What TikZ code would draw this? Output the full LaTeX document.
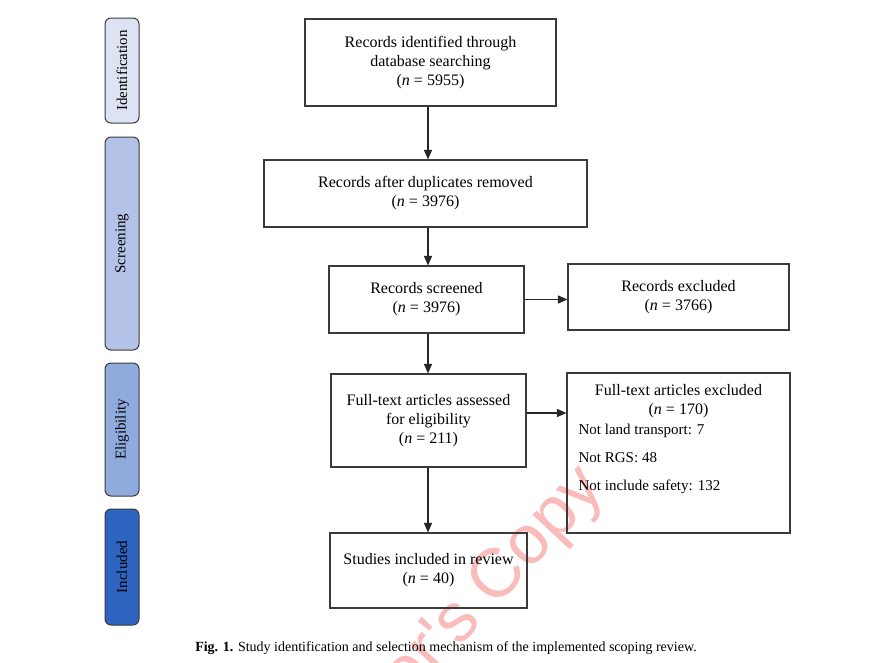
\documentclass[tikz,border=0pt]{standalone}
\usepackage{fontspec}
\setmainfont{Liberation Serif}
\newfontfamily\stampfont{Liberation Sans}
\usetikzlibrary{arrows.meta, positioning, calc}
\definecolor{identify}{HTML}{DDE3F3}
\definecolor{screen}  {HTML}{B4C2E7}
\definecolor{eligible}{HTML}{8FAADD}
\definecolor{include} {HTML}{2E63BF}
\definecolor{frame}   {HTML}{3A3A3A}
\definecolor{stamp}   {HTML}{F03C3C}

\begin{document}
\begin{tikzpicture}[x=1pt, y=-1pt,
  % One unit is one pixel of the reference, measured from its top left corner.
  box/.style={draw=frame, line width=1.1pt, align=center, inner sep=3pt,
              font=\fontsize{16}{19}\selectfont},
  stage/.style={draw=frame, line width=1pt, rounded corners=6pt, rotate=90,
                minimum height=34pt, inner sep=0pt, font=\fontsize{15}{18}\selectfont},
  flow/.style={-{Triangle[length=9.5pt, width=8pt]}, line width=1.3pt, color=black!85},
  listtext/.style={font=\fontsize{15}{18}\selectfont, inner sep=0pt},
  % The watermark lies under the text and is cut off at the page edge.
  stampmark/.style={font=\stampfont\fontsize{69}{69}\selectfont, text=stamp,
                    text opacity=0.35, rotate=47, inner sep=0pt}
]
\useasboundingbox (0,0) rectangle (880,662);

% --- Watermark ---
\begin{scope}
  \clip (0,0) rectangle (880,662);
  \node[stampmark, anchor=base east] (wm) at (606,490) {Author's Copy};
\end{scope}

% --- Stages (left column) ---
\node[stage, fill=identify, minimum width=105pt] (sident) at (122,70.5)  {Identification};
\node[stage, fill=screen,   minimum width=213pt] (sscr)   at (122,243.5) {Screening};
\node[stage, fill=eligible, minimum width=133pt] (selig)  at (122,429.5) {Eligibility};
\node[stage, fill=include,  minimum width=116pt] (sincl)  at (122,567)   {Included};

% --- Main flow ---
\node[box, minimum width=251pt, minimum height=87pt] (rec)  at (430.5,62.5)
  {Records identified through\\database searching\\(\textit{n} = 5955)};
\node[box, minimum width=323pt, minimum height=67pt] (dup)  at (425.5,193.5)
  {Records after duplicates removed\\(\textit{n} = 3976)};
\node[box, minimum width=195pt, minimum height=67pt] (scr)  at (426.5,299.5)
  {Records screened\\(\textit{n} = 3976)};
\node[box, minimum width=195pt, minimum height=93pt] (full) at (428.5,420.5)
  {Full-text articles assessed\\for eligibility\\(\textit{n} = 211)};
\node[box, minimum width=197pt, minimum height=75pt] (incl) at (428.5,570.5)
  {Studies included in review\\(\textit{n} = 40)};

% --- Exclusions (right column) ---
\node[box, minimum width=221pt, minimum height=66pt] (exc)  at (678.5,297)
  {Records excluded\\(\textit{n} = 3766)};
\node[box, minimum width=223pt, minimum height=160pt] (fexc) at (678.5,453) {};
\node[box, draw=none, inner sep=0pt, anchor=north] (fexchead)
  at ([yshift=-11pt]fexc.north) {Full-text articles excluded\\(\textit{n} = 170)};
\node[listtext, anchor=north west, align=left] (fexclist)
  at ([xshift=12pt, yshift=-51pt]fexc.north west)
  {Not land transport: 7\\[10pt]Not RGS: 48\\[10pt]Not include safety: 132};

% --- Arrows ---
\coordinate (spine) at (428,0);
\draw[flow] (rec.south -| spine) -- (dup.north -| spine);
\draw[flow] (dup.south -| spine) -- (scr.north -| spine);
\draw[flow] (scr.south -| spine) -- (full.north -| spine);
\draw[flow] (full.south -| spine) -- (incl.north -| spine);
\draw[flow] (scr.east) -- (scr.east -| exc.west);
\draw[flow] ([yshift=7.5pt]full.east) -- ([yshift=7.5pt]full.east -| fexc.west);

% --- Caption ---
\node[font=\fontsize{14}{16}\selectfont] (cap) at (446,648)
  {\textbf{Fig. 1.} Study identification and selection mechanism of the implemented scoping review.};

\end{tikzpicture}
\end{document}
